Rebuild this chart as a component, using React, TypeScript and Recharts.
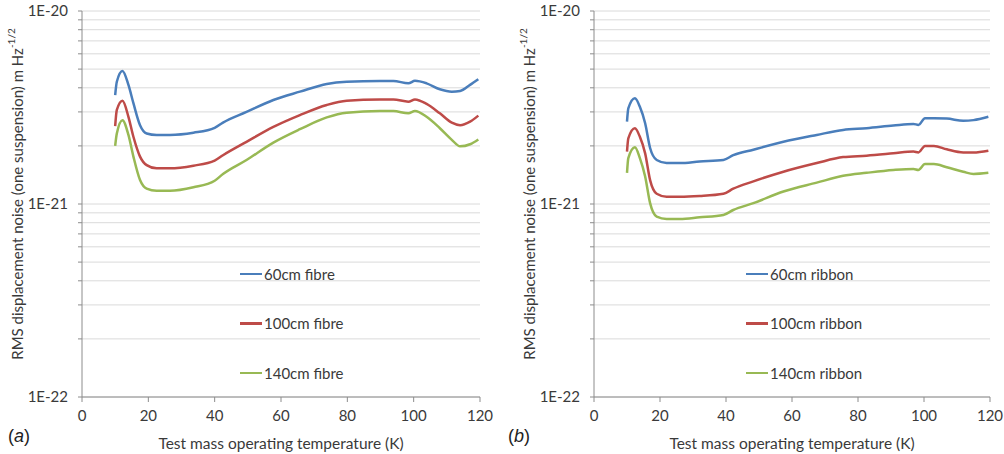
import React from 'react';
import { LineChart, Line, XAxis, YAxis, ReferenceLine } from 'recharts';

// values in units of 1E-21 m Hz^-1/2
const SCALE = 1e-21;

const tempFibre = [10, 10.5, 12.2, 14, 15.5, 17.5, 19.5, 22.5, 26.5, 33.6, 40, 42.5, 49.6, 57.7, 65.7, 73.8, 79.8, 89.8, 93.9, 98.4, 100.4, 103.9, 107.9, 111.5, 114, 117, 119.5];
const fibre60 = [3.67, 4.3, 4.89, 4.14, 3.33, 2.56, 2.32, 2.28, 2.28, 2.34, 2.48, 2.64, 3.0, 3.46, 3.82, 4.19, 4.3, 4.34, 4.34, 4.22, 4.35, 4.22, 3.93, 3.82, 3.85, 4.14, 4.43];
const fibre100 = [2.53, 3.07, 3.43, 2.83, 2.23, 1.76, 1.59, 1.53, 1.53, 1.58, 1.68, 1.79, 2.1, 2.51, 2.89, 3.26, 3.43, 3.48, 3.48, 3.39, 3.48, 3.3, 2.95, 2.64, 2.56, 2.67, 2.87];
const fibre140 = [2.0, 2.32, 2.72, 2.28, 1.76, 1.33, 1.2, 1.17, 1.17, 1.22, 1.32, 1.43, 1.69, 2.08, 2.44, 2.81, 2.97, 3.03, 3.03, 2.95, 3.03, 2.83, 2.47, 2.15, 1.99, 2.04, 2.16];

const tempRibbon = [10, 10.4, 12.4, 13.9, 15.5, 17, 19, 22, 26, 32, 39.2, 42.2, 48.3, 57.4, 67.5, 75.5, 82.6, 90.7, 96.8, 98.3, 100.3, 103, 106.9, 111.9, 115, 119.5];
const ribbon60 = [2.67, 3.13, 3.53, 3.19, 2.62, 1.95, 1.69, 1.63, 1.63, 1.66, 1.69, 1.79, 1.91, 2.1, 2.28, 2.42, 2.47, 2.55, 2.6, 2.57, 2.78, 2.78, 2.77, 2.7, 2.72, 2.83];
const ribbon100 = [1.87, 2.19, 2.47, 2.23, 1.83, 1.33, 1.13, 1.09, 1.09, 1.1, 1.13, 1.2, 1.31, 1.47, 1.63, 1.75, 1.78, 1.83, 1.87, 1.85, 2.0, 2.0, 1.92, 1.85, 1.85, 1.89];
const ribbon140 = [1.45, 1.73, 1.97, 1.73, 1.39, 1.01, 0.86, 0.836, 0.836, 0.853, 0.877, 0.931, 1.01, 1.16, 1.29, 1.4, 1.45, 1.5, 1.52, 1.5, 1.61, 1.61, 1.55, 1.47, 1.43, 1.45];

const fibreNames = ['60cm fibre', '100cm fibre', '140cm fibre'];
const ribbonNames = ['60cm ribbon', '100cm ribbon', '140cm ribbon'];
const colors = ['#4a7ebb', '#be4b48', '#98b954'];

const xTicks = [0, 20, 40, 60, 80, 100, 120];
const yTicks = [
  1e-22, 2e-22, 3e-22, 4e-22, 5e-22, 6e-22, 7e-22, 8e-22, 9e-22,
  1e-21, 2e-21, 3e-21, 4e-21, 5e-21, 6e-21, 7e-21, 8e-21, 9e-21,
  1e-20,
];
const majorLabels: Record<string, string> = { '-22': '1E-22', '-21': '1E-21', '-20': '1E-20' };

const FONT = 'Lato, "Open Sans", sans-serif';
const AXIS = '#8c8c8c';
const TEXT = '#3a3a3a';
const GRID = '#dadada';

function buildRows(temps: number[], a: number[], b: number[], c: number[]) {
  return temps.map((t, i) => ({ t, s0: a[i] * SCALE, s1: b[i] * SCALE, s2: c[i] * SCALE }));
}

const fibreRows = buildRows(tempFibre, fibre60, fibre100, fibre140);
const ribbonRows = buildRows(tempRibbon, ribbon60, ribbon100, ribbon140);

function yFmt(v: number) {
  const l = Math.log10(v);
  const r = Math.round(l);
  if (Math.abs(l - r) < 1e-6) return majorLabels[String(r)] || '';
  return '';
}

function Panel(props: {
  left: number; width: number; yAxisW: number; right: number; rows: any[]; names: string[];
  labelX: number; legendLeft: number; tag: string;
}) {
  const { left, width, yAxisW, right, rows, names, labelX, legendLeft, tag } = props;
  const yLabel = () => (
    <text
      x={labelX}
      y={194}
      transform={`rotate(-90, ${labelX}, 194)`}
      textAnchor="middle"
      dominantBaseline="central"
      fontFamily={FONT}
      fontSize={15}
      fill={TEXT}
    >
      RMS displacement noise (one suspension) m Hz
      <tspan dy={-6} fontSize={10}>-1/2</tspan>
    </text>
  );
  return (
    <div style={{ position: 'absolute', left, top: 0, width, height: 454 }}>
      <LineChart width={width} height={454} data={rows} margin={{ top: 11, right, left: 0, bottom: 0 }}>
        {yTicks.map((v) => (
          <ReferenceLine key={v} y={v} stroke={GRID} strokeWidth={1} ifOverflow="visible" />
        ))}
        <XAxis
          dataKey="t"
          type="number"
          domain={[0, 120]}
          ticks={xTicks}
          height={57}
          stroke={AXIS}
          tickSize={5}
          tickMargin={8}
          tick={{ fill: TEXT, fontSize: 15, fontFamily: FONT }}
          label={{ value: 'Test mass operating temperature (K)', position: 'insideBottom', offset: 5, fill: TEXT, fontSize: 15.5, fontFamily: FONT }}
        />
        <YAxis
          scale="log"
          domain={[1e-22, 1e-20]}
          ticks={yTicks}
          interval={0}
          allowDataOverflow
          width={yAxisW}
          stroke={AXIS}
          tickSize={4}
          tickMargin={10}
          tickFormatter={yFmt}
          tick={{ fill: TEXT, fontSize: 15, fontFamily: FONT }}
          label={yLabel}
        />
        {names.map((n, i) => (
          <Line
            key={n}
            dataKey={`s${i}`}
            name={n}
            type="monotone"
            stroke={colors[i]}
            strokeWidth={2.5}
            dot={false}
            isAnimationActive={false}
          />
        ))}
      </LineChart>
      <div style={{ position: 'absolute', left: legendLeft, top: 249, fontFamily: FONT, fontSize: 15, color: TEXT }}>
        {names.map((n, i) => (
          <div key={n} style={{ height: 49.5, display: 'flex', alignItems: 'center' }}>
            <span style={{ display: 'inline-block', width: 22, height: 2.5, background: colors[i], marginRight: 2 }} />
            <span>{n}</span>
          </div>
        ))}
      </div>
      <div style={{ position: 'absolute', left: 8, top: 426, fontFamily: '"Liberation Sans", Arial, sans-serif', fontSize: 18, color: '#222' }}>
        (<i>{tag}</i>)
      </div>
    </div>
  );
}

export default function App() {
  return (
    <div style={{ position: 'absolute', left: 0, top: 0, width: 1004, height: 454, background: '#fff' }}>
      <Panel left={0} width={500} yAxisW={82} right={20} rows={fibreRows} names={fibreNames} labelX={17} legendLeft={240} tag="a" />
      <Panel left={500} width={504} yAxisW={94} right={14} rows={ribbonRows} names={ribbonNames} labelX={29} legendLeft={246} tag="b" />
    </div>
  );
}
